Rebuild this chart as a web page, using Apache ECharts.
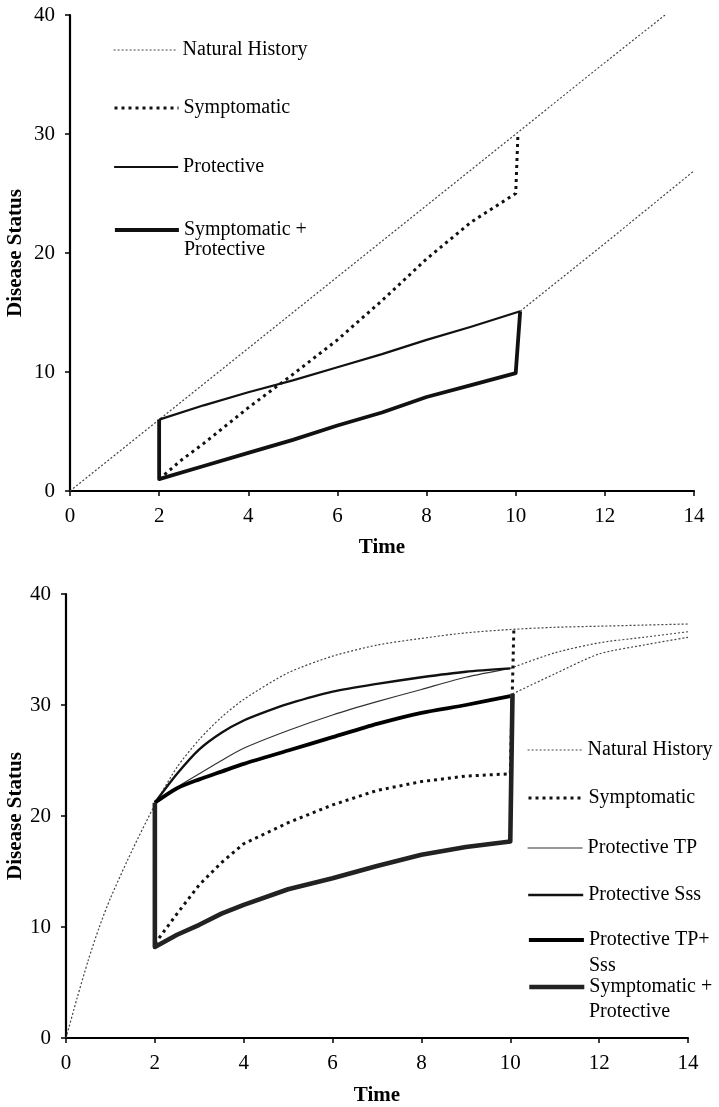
<!DOCTYPE html>
<html><head><meta charset="utf-8">
<script src="https://cdn.jsdelivr.net/npm/echarts@6/dist/echarts.min.js"></script>
<style>html,body{margin:0;padding:0;background:#fff}#c{width:719px;height:1107px}</style>
</head><body><div id="c"></div>
<script>
const FONT = '"Liberation Serif","Times New Roman",serif';
// ---------- data ----------
const xTickValues = [0, 2, 4, 6, 8, 10, 12, 14];
const yTickValues = [0, 10, 20, 30, 40];

// top panel
const topNaturalHistory = [[0,0],[2,6],[4,12],[6,18],[8,24],[10,30],[12,36],[13.35,40]];
const topNaturalAfter = [[10.1,15.1],[12,20.8],[14,26.9]];
const topSymptomatic = [[2,1],[2.5,2.6],[3,4.0],[4,7.0],[5,9.8],[6,12.7],[7,16.0],[8,19.5],[9,22.6],[10,25],[10.05,30]];
const topProtective = [[2,6],[3,7.2],[4,8.3],[5,9.3],[6,10.4],[7,11.5],[8,12.7],[9,13.8],[10.1,15.1]];
const topSymProtective = [[2,6],[2,1],[3,2.1],[4,3.2],[5,4.3],[6,5.5],[7,6.6],[8,7.9],[9,8.9],[10,9.9],[10.1,15.1]];

// bottom panel
const botNaturalHistory = [[0,0],[0.25,3.6],[0.5,7.0],[0.75,10.0],[1,12.6],[1.5,17.0],[2,21.0],[2.5,24.4],[3,26.9],[3.5,28.9],[4,30.5],[5,32.9],[6,34.4],[7,35.4],[8,36.0],[9,36.5],[10,36.8],[11,37.0],[12,37.1],[13,37.2],[14,37.3]];
const botNaturalAfterA = [[10,33.3],[11,34.7],[12,35.6],[13,36.1],[14,36.6]];
const botNaturalAfterB = [[10.05,31.0],[11,32.8],[12,34.6],[13,35.4],[14,36.1]];
const botSymptomatic = [[2,8.5],[2.5,11.2],[3,13.8],[3.5,15.8],[4,17.5],[5,19.4],[6,21.0],[7,22.3],[8,23.1],[9,23.6],[10,23.8],[10.08,36.8]];
const botProtectiveTP = [[2,21.2],[2.5,22.6],[3,23.8],[3.5,25.0],[4,26.1],[5,27.7],[6,29.1],[7,30.3],[8,31.4],[9,32.5],[10,33.3]];
const botProtectiveSss = [[2,21.2],[2.5,23.8],[3,26.0],[3.5,27.5],[4,28.6],[4.5,29.4],[5,30.1],[6,31.2],[7,31.9],[8,32.5],[9,33.0],[10,33.3]];
const botProtectiveTPSss = [[2,21.2],[2.5,22.5],[3,23.3],[3.5,24.0],[4,24.7],[5,25.9],[6,27.1],[7,28.3],[8,29.3],[9,30.0],[10,30.8]];
const botSymProtective = [[2,21.2],[2,8.2],[2.5,9.3],[3,10.2],[3.5,11.2],[4,12.0],[5,13.4],[6,14.4],[7,15.5],[8,16.5],[9,17.2],[10,17.7],[10.05,31.0]];

// ---------- styles ----------
const ST = {
  nh:   {color:'#444', width:1.2, type:[2,2]},
  sym:  {color:'#111', width:3,   type:[3,4]},
  prot: {color:'#111', width:2.2, type:'solid'},
  sp:   {color:'#111', width:3.8, type:'solid'},
  tp:   {color:'#333', width:1.2, type:'solid'},
  sss:  {color:'#111', width:2.4, type:'solid'},
  tpsss:{color:'#000', width:3.8, type:'solid'},
  sp2:  {color:'#222', width:4.6, type:'solid'}
};

function line(name, data, st, idx, z, smooth) {
  return {
    type:'line', name, data, xAxisIndex:idx, yAxisIndex:idx,
    symbol:'none', showSymbol:false, smooth:smooth ? 0.25 : false,
    animation:false, z:z||2,
    lineStyle:{color:st.color, width:st.width, type:st.type, cap:'butt', join:'round'},
    itemStyle:{color:st.color}, emphasis:{disabled:true}
  };
}

function leg(name, left, centerY, w, st, label) {
  return {
    data:[name], left, top: centerY - 10, orient:'vertical',
    itemWidth:w, itemHeight:20, itemGap:0, padding:0, selectedMode:false,
    formatter: () => label || name.trim(),
    textStyle:{fontFamily:FONT, fontSize:20, color:'#000'},
    lineStyle:{color:st.color, width:st.width, type:st.type},
    itemStyle:{opacity:0}
  };
}
function secondLine(text, x, y) {
  return {type:'text', left:x, top:y - 10, silent:true,
    style:{text, fontFamily:FONT, fontSize:20, fill:'#000'}};
}

function xAxis(idx, gap) {
  return {
    type:'value', gridIndex:idx, min:0, max:14, interval:2,
    name:'Time', nameLocation:'middle', nameGap:gap, nameMoveOverlap:false,
    nameTextStyle:{fontFamily:FONT, fontSize:21, fontWeight:'bold', color:'#000'},
    axisLine:{show:true, onZero:false, lineStyle:{color:'#000', width:2.2}},
    axisTick:{show:true, length:5, lineStyle:{color:'#000', width:1.5}},
    axisLabel:{fontFamily:FONT, fontSize:21, color:'#000', margin:15, formatter:v => xTickValues.includes(v) ? String(v) : ''},
    splitLine:{show:false}
  };
}
function yAxis(idx, gap) {
  return {
    type:'value', gridIndex:idx, min:0, max:40, interval:10,
    name:'Disease Status', nameLocation:'middle', nameGap:gap, nameRotate:90, nameMoveOverlap:false,
    nameTextStyle:{fontFamily:FONT, fontSize:21, fontWeight:'bold', color:'#000'},
    axisLine:{show:true, onZero:false, lineStyle:{color:'#000', width:2.2}},
    axisTick:{show:true, length:5, lineStyle:{color:'#000', width:1.5}},
    axisLabel:{fontFamily:FONT, fontSize:21, color:'#000', margin:15, formatter:v => yTickValues.includes(v) ? String(v) : ''},
    splitLine:{show:false}
  };
}

const chart = echarts.init(document.getElementById('c'), null, {renderer:'canvas'});
chart.setOption({
  backgroundColor:'#fff',
  animation:false,
  grid:[
    {left:70, top:15, width:624, height:476, containLabel:false, outerBoundsMode:'none'},
    {left:66, top:594, width:622, height:444, containLabel:false, outerBoundsMode:'none'}
  ],
  xAxis:[xAxis(0, 46), xAxis(1, 47)],
  yAxis:[yAxis(0, 44), yAxis(1, 40)],
  legend:[
    leg('Natural History', 113, 50, 64, ST.nh),
    leg('Symptomatic', 113, 108, 64, ST.sym),
    leg('Protective', 113, 167, 64, ST.prot),
    leg('Symptomatic + Protective', 113, 230, 64, ST.sp, 'Symptomatic +'),
    leg('Natural History ', 527, 750, 55, ST.nh),
    leg('Symptomatic ', 527, 798, 55, ST.sym),
    leg('Protective TP', 527, 848, 55, ST.tp),
    leg('Protective Sss', 527, 895, 55, ST.sss),
    leg('Protective TP+Sss', 527, 940, 55, ST.tpsss, 'Protective TP+'),
    leg('Symptomatic + Protective ', 527, 987, 55, ST.sp2, 'Symptomatic +')
  ],
  graphic:[
    secondLine('Protective', 184, 250),
    secondLine('Sss', 589, 966),
    secondLine('Protective', 589, 1012)
  ],
  series:[
    line('Natural History', topNaturalHistory, ST.nh, 0, 1),
    line('Natural History (after)', topNaturalAfter, ST.nh, 0, 1),
    line('Symptomatic', topSymptomatic, ST.sym, 0, 2),
    line('Protective', topProtective, ST.prot, 0, 3),
    line('Symptomatic + Protective', topSymProtective, ST.sp, 0, 4),

    line('Natural History ', botNaturalHistory, ST.nh, 1, 1, true),
    line('Natural History (after A)', botNaturalAfterA, ST.nh, 1, 1, true),
    line('Natural History (after B)', botNaturalAfterB, ST.nh, 1, 1, true),
    line('Symptomatic ', botSymptomatic, ST.sym, 1, 2),
    line('Protective TP', botProtectiveTP, ST.tp, 1, 3, true),
    line('Protective Sss', botProtectiveSss, ST.sss, 1, 3, true),
    line('Protective TP+Sss', botProtectiveTPSss, ST.tpsss, 1, 4, true),
    line('Symptomatic + Protective ', botSymProtective, ST.sp2, 1, 5)
  ]
});
</script></body></html>
